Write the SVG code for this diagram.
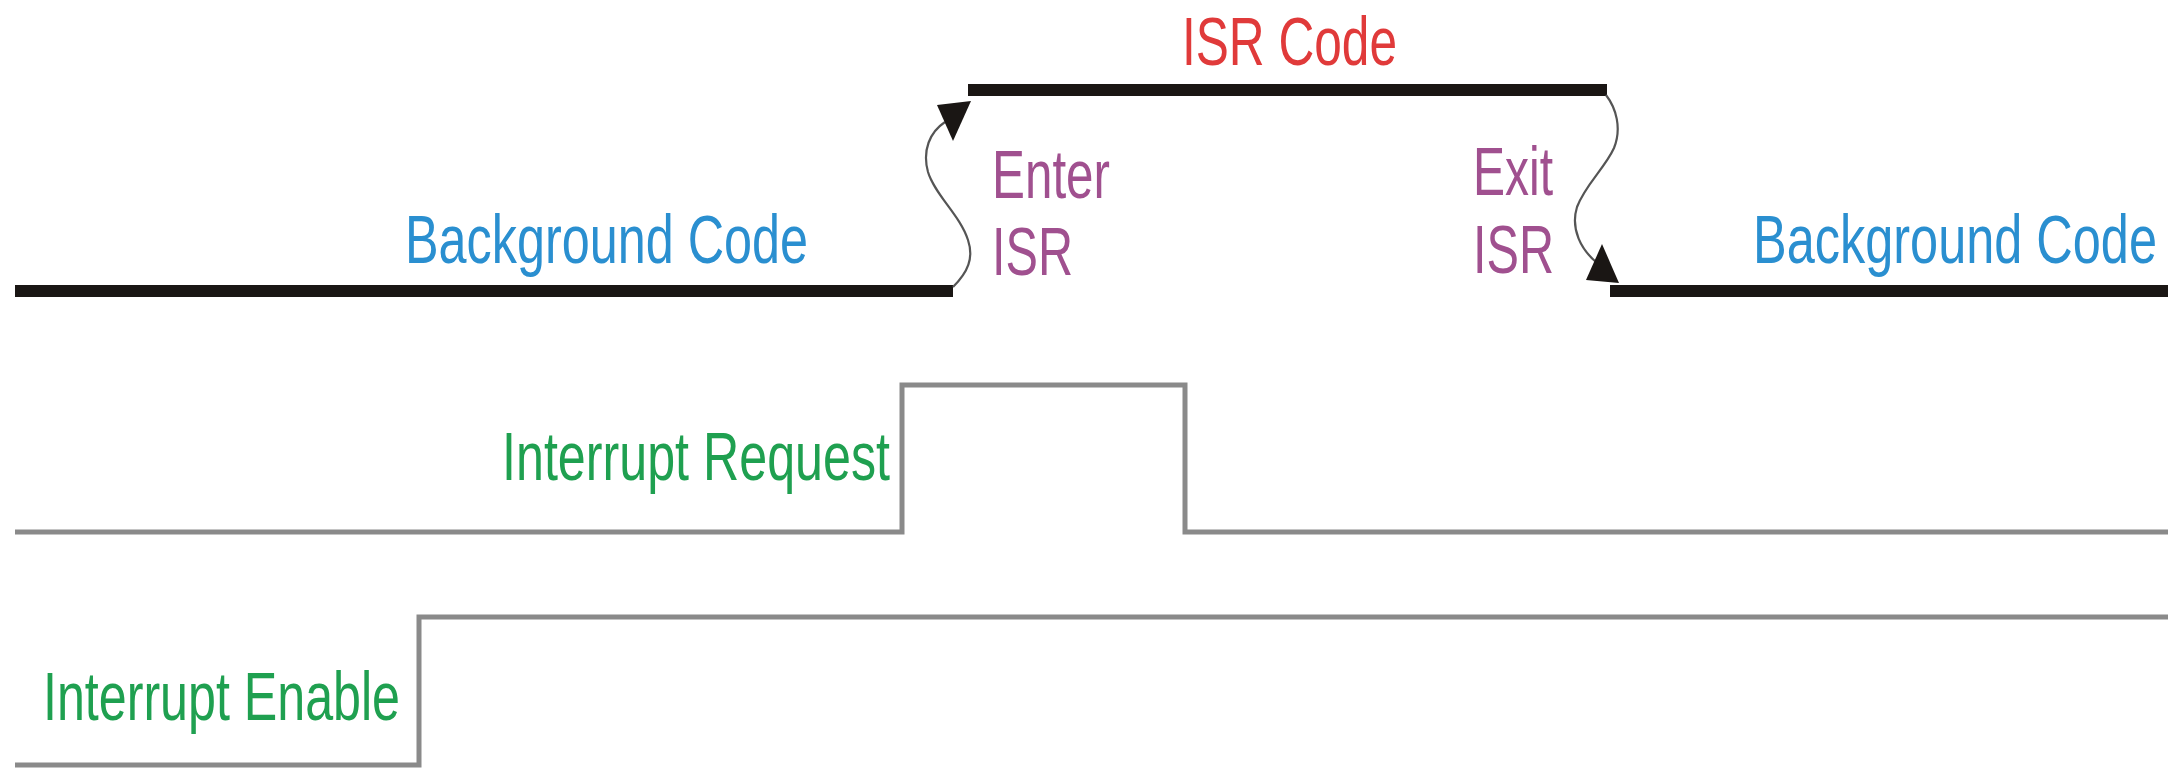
<svg xmlns="http://www.w3.org/2000/svg" width="2174" height="770" viewBox="0 0 2174 770">
  <style>
    text { font-family: "Liberation Sans", Arial, sans-serif; font-size: 68px; }
    .code { fill: none; stroke: #1a1614; stroke-width: 12; stroke-linecap: butt; }
    .sig { fill: none; stroke: #8a8a8a; stroke-width: 5; stroke-linejoin: miter; }
    .wave { fill: none; stroke: #555; stroke-width: 2.2; }
    .head { fill: #1a1614; }
    .blue { fill: #2a8fd0; }
    .red { fill: #e03a3a; }
    .purple { fill: #a0508f; }
    .green { fill: #1fa050; }
  </style>
  <rect width="2174" height="770" fill="#ffffff"/>

  <g id="background-left">
    <line class="code" x1="15" y1="291" x2="953" y2="291"/>
    <text class="blue" x="405" y="263" textLength="403" lengthAdjust="spacingAndGlyphs">Background Code</text>
  </g>

  <g id="isr-code">
    <line class="code" x1="968" y1="90" x2="1607" y2="90"/>
    <text class="red" x="1182" y="65" textLength="215" lengthAdjust="spacingAndGlyphs">ISR Code</text>
  </g>

  <g id="background-right">
    <line class="code" x1="1610" y1="291" x2="2168" y2="291"/>
    <text class="blue" x="1753" y="263" textLength="404" lengthAdjust="spacingAndGlyphs">Background Code</text>
  </g>

  <g id="enter-isr">
    <text class="purple" x="992" y="198" textLength="118" lengthAdjust="spacingAndGlyphs">Enter</text>
    <text class="purple" x="992" y="275" textLength="81" lengthAdjust="spacingAndGlyphs">ISR</text>
  </g>

  <g id="exit-isr">
    <text class="purple" x="1473" y="195" textLength="80" lengthAdjust="spacingAndGlyphs">Exit</text>
    <text class="purple" x="1473" y="273" textLength="81" lengthAdjust="spacingAndGlyphs">ISR</text>
  </g>

  <g id="interrupt-request">
    <polyline class="sig" points="15,532 902,532 902,385 1185,385 1185,532 2168,532"/>
    <text class="green" x="502" y="480" textLength="388" lengthAdjust="spacingAndGlyphs">Interrupt Request</text>
  </g>

  <g id="interrupt-enable">
    <polyline class="sig" points="15,765 419,765 419,617 2168,617"/>
    <text class="green" x="43" y="720" textLength="357" lengthAdjust="spacingAndGlyphs">Interrupt Enable</text>
  </g>

  <g id="connectors">
    <path class="wave" d="M953,287 C968,272 974,258 968,240 C960,215 935,195 928,172 C922,150 930,132 945,122"/>
    <polygon class="head" points="937,105 971,101 953,141"/>
    <path class="wave" d="M1606,95 C1616,108 1622,128 1614,148 C1605,168 1585,185 1577,207 C1570,230 1582,250 1596,262"/>
    <polygon class="head" points="1602,244 1586,280 1619,283"/>
  </g>
</svg>
